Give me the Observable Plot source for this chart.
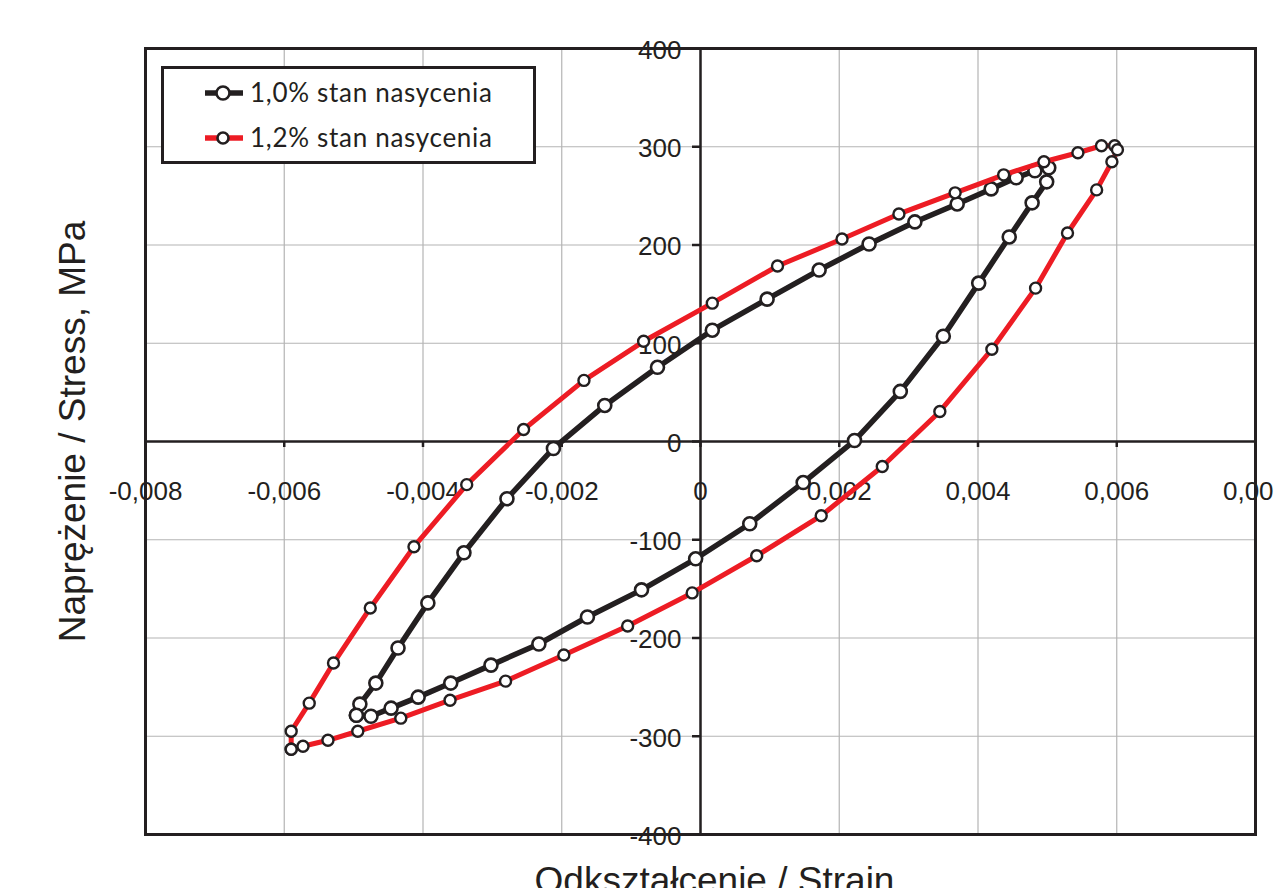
<!DOCTYPE html>
<html><head><meta charset="utf-8">
<script src="https://cdn.jsdelivr.net/npm/d3@7"></script>
<script src="https://cdn.jsdelivr.net/npm/@observablehq/plot@0.6"></script>
<style>
body{margin:0;background:#fff;overflow:hidden}
#wrap{position:relative;width:1274px;height:888px;overflow:hidden}
#legend{position:absolute;left:0;top:0}
</style></head><body><div id="wrap"></div>
<script>
// Series names
const seriesNames = ["1,0% stan nasycenia", "1,2% stan nasycenia"];
const seriesColors = ["#231f20", "#ed1c24"];

// 1,0% series (loop: loading branch, then unloading branch)
const strain10 = [-0.00496,-0.00491,-0.00468,-0.00436,-0.00393,-0.00341,-0.00279,-0.00212,-0.00138,-0.00062,
  0.00017,0.00096,0.00171,0.00243,0.00309,0.00370,0.00419,0.00455,0.00482,0.00502,
  0.00499,0.00478,0.00445,0.00401,0.00350,0.00288,0.00222,0.00148,0.00071,-0.00007,
  -0.00085,-0.00163,-0.00233,-0.00302,-0.00360,-0.00407,-0.00446,-0.00475,-0.00496];
const stress10 = [-278.6,-267.3,-245.9,-210.2,-164.3,-113.3,-58.2,-7.1,36.7,75.5,
  113.3,144.9,174.5,201.0,223.5,241.8,257.1,268.4,275.5,278.6,
  264.3,242.9,208.2,161.2,107.1,51.0,1.0,-41.8,-83.7,-119.4,
  -151.0,-178.6,-206.1,-227.6,-245.9,-260.2,-271.4,-279.6,-278.6];

// 1,2% series
const strain12 = [-0.00590,-0.00590,-0.00564,-0.00529,-0.00476,-0.00413,-0.00337,-0.00255,-0.00168,-0.00082,
  0.00017,0.00111,0.00204,0.00286,0.00367,0.00437,0.00495,0.00544,0.00578,0.00597,
  0.00601,0.00593,0.00571,0.00529,0.00483,0.00420,0.00345,0.00262,0.00174,0.00081,
  -0.00012,-0.00105,-0.00197,-0.00281,-0.00361,-0.00432,-0.00494,-0.00537,-0.00573,-0.00590];
const stress12 = [-313.3,-294.9,-266.3,-225.5,-169.4,-107.1,-43.9,12.2,62.2,102.0,
  140.8,178.6,206.1,231.6,253.1,271.4,284.7,293.9,301.0,301.0,
  296.9,284.7,256.1,212.2,156.1,93.9,30.6,-25.5,-75.5,-116.3,
  -154.1,-187.8,-217.3,-243.9,-263.3,-281.6,-294.9,-304.1,-310.2,-313.3];

// Ticks and labels
const xTicks = [-0.008,-0.006,-0.004,-0.002,0,0.002,0.004,0.006,0.008];
const xTickLabels = ["-0,008","-0,006","-0,004","-0,002","0","0,002","0,004","0,006","0,008"];
const yTicks = [-400,-300,-200,-100,0,100,200,300,400];
const yTickLabels = ["-400","-300","-200","-100","0","100","200","300","400"];
const xLabel = "Odkształcenie / Strain";
const yLabel = "Naprężenie / Stress, MPa";

const s10 = strain10.map((x,i)=>({x, y: stress10[i]}));
const s12 = strain12.map((x,i)=>({x, y: stress12[i]}));
const xt = xTicks.map((v,i)=>({v, t: xTickLabels[i]}));
const yt = yTicks.map((v,i)=>({v, t: yTickLabels[i]}));

const chart = Plot.plot({
  width: 1274, height: 888,
  marginLeft: 145, marginRight: 19, marginTop: 48, marginBottom: 54,
  x: {domain: [-0.008, 0.008], axis: null},
  y: {domain: [-400, 400], axis: null},
  style: {fontFamily: "Liberation Sans, Arial, sans-serif", background: "#fff", overflow: "visible"},
  marks: [
    Plot.gridX(xTicks, {stroke: "#b4b4b4", strokeOpacity: 1, strokeWidth: 1.2}),
    Plot.gridY(yTicks, {stroke: "#b4b4b4", strokeOpacity: 1, strokeWidth: 1.2}),
    Plot.ruleY([0], {stroke: "#231f20", strokeWidth: 2.5}),
    Plot.ruleX([0], {stroke: "#231f20", strokeWidth: 2.5}),
    Plot.ruleX(xTicks, {x: d=>d, y1: 0, y2: 0, insetBottom: -6, stroke: "#231f20", strokeWidth: 2.5}),
    Plot.ruleY(yTicks, {y: d=>d, x1: 0, x2: 0, insetLeft: -8, stroke: "#231f20", strokeWidth: 2.5}),
    Plot.text(xt, {x: "v", y: () => 0, text: "t", dy: 50, fontSize: 26, fill: "#231f20"}),
    Plot.text(yt, {x: () => 0, y: "v", text: "t", dx: -19, dy: 2, textAnchor: "end", fontSize: 26, fill: "#231f20"}),
    Plot.frame({stroke: "#231f20", strokeWidth: 3}),
    Plot.line(s10, {x: "x", y: "y", stroke: seriesColors[0], strokeWidth: 5.5}),
    Plot.dot(s10, {x: "x", y: "y", r: 6.5, fill: "#fff", stroke: "#231f20", strokeWidth: 2.6}),
    Plot.line(s12, {x: "x", y: "y", stroke: seriesColors[1], strokeWidth: 5}),
    Plot.dot(s12, {x: "x", y: "y", r: 5.5, fill: "#fff", stroke: "#231f20", strokeWidth: 2.4}),
    Plot.text([xLabel], {frameAnchor: "bottom", dx: 14, dy: 58, fontSize: 37, fill: "#231f20"}),
    Plot.text([yLabel], {frameAnchor: "left", textAnchor: "middle", rotate: -90, dx: -72, dy: -10, fontSize: 37, fill: "#231f20"})
  ]
});
const wrap = document.getElementById("wrap");
wrap.appendChild(chart);

// Legend (inside plot area, top-left)
const ns = "http://www.w3.org/2000/svg";
const lg = document.createElementNS(ns, "svg");
lg.setAttribute("id", "legend");
lg.setAttribute("width", 1274); lg.setAttribute("height", 888);
lg.style.pointerEvents = "none";
const box = document.createElementNS(ns, "rect");
box.setAttribute("x", 162.5); box.setAttribute("y", 67.5);
box.setAttribute("width", 372); box.setAttribute("height", 95);
box.setAttribute("fill", "#fff"); box.setAttribute("stroke", "#231f20"); box.setAttribute("stroke-width", 3);
lg.appendChild(box);
seriesNames.forEach((name, i) => {
  const cy = 93 + i * 45;
  const ln = document.createElementNS(ns, "line");
  ln.setAttribute("x1", 205); ln.setAttribute("x2", 243);
  ln.setAttribute("y1", cy); ln.setAttribute("y2", cy);
  ln.setAttribute("stroke", seriesColors[i]); ln.setAttribute("stroke-width", 5.5);
  lg.appendChild(ln);
  const c = document.createElementNS(ns, "circle");
  c.setAttribute("cx", 223); c.setAttribute("cy", cy); c.setAttribute("r", i === 0 ? 6.5 : 5.5);
  c.setAttribute("fill", "#fff"); c.setAttribute("stroke", "#231f20"); c.setAttribute("stroke-width", 2.6);
  lg.appendChild(c);
  const t = document.createElementNS(ns, "text");
  t.setAttribute("x", 250); t.setAttribute("y", cy);
  t.setAttribute("dy", "0.35em");
  t.setAttribute("font-family", "Lato, sans-serif");
  t.setAttribute("font-size", 26);
  t.setAttribute("letter-spacing", "0.7");
  t.setAttribute("fill", "#231f20");
  t.textContent = name;
  lg.appendChild(t);
});
wrap.appendChild(lg);
</script>
</body></html>
